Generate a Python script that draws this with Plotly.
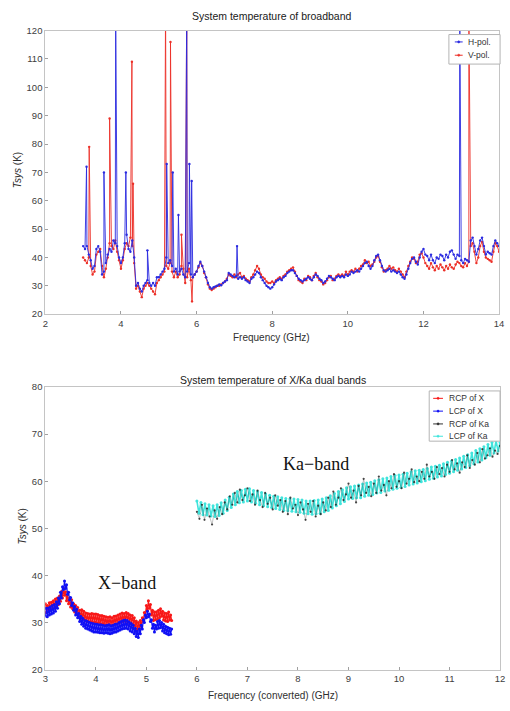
import plotly.graph_objects as go

# ---------------- Broadband panel (3-14 GHz) ----------------
bb_freq = [round(3.0 + 0.05 * i, 2) for i in range(221)]

h_pol = [
    44, 43, 44, 41, 39, 36, 37, 43, 44, 42,
    34, 35, 38, 41, 43, 42, 46, 45, 44, 40,
    38, 40, 45, 48, 43, 42, 46, 40, 30, 31,
    29, 28, 30, 31, 32, 31, 30, 31, 30, 33,
    33, 34, 35, 36, 40, 38, 39, 37, 35, 36,
    34, 35, 36, 34, 33, 35, 38, 34, 33, 34,
    35, 37, 38.5, 37, 35, 33, 31, 29.5, 29, 29.5,
    29.8, 30, 30.5, 30.2, 31, 31.5, 32, 34.5, 34, 33.5,
    33, 33.5, 32.5, 33, 32.5, 33, 32, 31.5, 31, 32.5,
    33, 34, 35, 34.5, 33, 32, 31, 30, 29.5, 29,
    29.5, 30.5, 31.5, 32, 32.5, 32, 33, 33.5, 34.5, 35,
    35.5, 35.5, 34.5, 33.5, 32.5, 32, 31.5, 32, 32.5, 33,
    32.5, 32, 33, 34, 33.5, 32.5, 32, 31, 31.5, 32.5,
    33.5, 33, 32.5, 32, 33, 33.5, 33, 33.5, 33, 34,
    33.5, 34, 35, 34.5, 35, 35.5, 35, 36, 37, 38,
    38.5, 37, 36, 37, 39, 40.5, 41, 39, 37, 35.5,
    35, 35.5, 36, 35, 35.5, 35, 34.5, 35, 34, 33,
    32.5, 34, 36, 38, 39.5, 40, 38.5, 37.5, 40, 42,
    43, 41, 40.5, 39, 41, 39, 38, 40, 39.5, 41,
    40.5, 39, 41, 40, 42, 42.5, 41, 39.5, 41, 40.5,
    39, 38, 39.5, 39, 38.5, 46, 47, 44, 41, 43,
    46, 47, 44, 41, 42, 41.5, 41, 44, 46, 45,
    44,
]

v_pol = [
    40, 39, 38, 40, 37, 34, 35, 41, 42, 43,
    37, 33, 36, 40, 45, 44, 43, 46, 42, 39,
    36, 39, 43, 45, 44, 47, 44, 38, 29, 30,
    28, 26, 29, 30, 31, 30, 29, 28, 27, 31,
    32, 33, 34, 35, 37, 36, 38, 35, 33, 35,
    33, 34, 37, 36, 31, 33, 36, 32, 33, 34,
    35, 36.5, 38, 37, 34.5, 33, 30.5, 29, 28.5, 29,
    29.5, 30, 30, 30.5, 31, 31.5, 32.5, 34, 33.5, 33,
    34, 33, 34, 34.5, 33, 33.5, 32.5, 32, 31.5, 33,
    34, 35.5, 37, 36, 34, 33, 32.5, 31.5, 31, 31,
    31.5, 31, 32, 32.5, 33, 32.5, 33.5, 34, 35, 35.5,
    36, 36.5, 35, 33.5, 32, 31.5, 31, 32.5, 32, 33.5,
    33, 32, 33.5, 34.5, 33, 32, 31.5, 30.5, 31, 32,
    33, 33.5, 32, 32.5, 33.5, 34, 33.5, 34, 33.5, 35,
    34, 35, 35.5, 35, 36, 35, 36, 37, 37.5, 39,
    38, 38.5, 37, 37.5, 38.5, 40, 40.5, 38.5, 36.5, 35,
    35.5, 36, 37, 36, 36.5, 35.5, 35, 36, 35, 34,
    33, 35, 37, 38.5, 40, 39.5, 38, 38.5, 41, 41.5,
    40, 38, 37, 36, 38, 36.5, 35.5, 37, 36, 37.5,
    36.5, 35.5, 37, 36, 37.5, 36.5, 36, 37.5, 38.5, 38,
    37, 36.5, 38, 37, 38.5, 44, 45, 42, 38, 40,
    44, 45.5, 42, 40, 39.5, 39, 38.5, 42, 45, 44,
    42,
]

# Narrow interference spikes (GHz, K)
h_spike_freq = [3.09, 3.55, 3.86, 4.13, 4.70, 5.21, 5.37, 5.52, 5.74, 5.81, 5.87, 7.07, 12.96]
h_spike_tsys = [72, 70, 130, 70, 42.5, 73, 70, 55, 130, 73, 67, 44, 130]
v_spike_freq = [3.16, 3.70, 4.29, 4.32, 5.18, 5.31, 5.60, 5.74, 5.88, 13.20]
v_spike_tsys = [79, 89, 109, 66, 130, 116, 48, 130, 24.5, 130]

# ---------------- X / Ka dual-band panel ----------------
x_freq = [round(3.0 + 0.02 * i, 2) for i in range(126)]

rcp_x = [
    34.0, 32.1, 33.6, 32.4, 34.2, 32.7, 34.3, 32.9, 34.6, 33.1,
    35.0, 33.3, 35.2, 33.8, 35.6, 34.5, 36.6, 35.2, 37.3, 35.8,
    36.5, 34.6, 35.9, 34.0, 35.2, 33.3, 34.8, 32.9, 34.0, 32.2,
    33.6, 31.8, 33.2, 31.4, 32.6, 31.0, 32.7, 30.8, 32.4, 30.6,
    32.0, 30.2, 31.9, 30.1, 31.8, 30.2, 31.9, 30.0, 31.8, 30.1,
    31.8, 29.9, 31.7, 30.0, 31.5, 29.6, 31.5, 29.8, 31.3, 29.5,
    31.2, 29.4, 31.1, 29.5, 31.2, 29.3, 31.0, 29.4, 31.3, 29.6,
    31.4, 29.7, 31.6, 29.9, 31.8, 30.1, 32.0, 30.2, 31.9, 30.3,
    32.1, 30.2, 31.9, 30.0, 31.6, 29.8, 31.5, 29.6, 31.0, 29.2,
    30.3, 28.5, 30.0, 28.7, 30.4, 29.2, 31.0, 30.2, 32.1, 31.5,
    33.6, 32.6, 34.6, 33.0, 33.8, 31.6, 32.6, 30.4, 32.2, 30.6,
    32.3, 30.7, 32.6, 31.0, 32.9, 31.3, 32.4, 30.5, 32.0, 30.3,
    31.9, 30.2, 32.2, 30.5, 31.6, 30.4,
]

lcp_x = [
    31.4, 33.0, 31.2, 33.1, 31.6, 33.3, 31.8, 33.6, 32.0, 33.8,
    32.4, 34.4, 33.0, 35.2, 34.0, 36.4, 35.2, 37.6, 37.0, 38.8,
    37.2, 38.0, 36.0, 36.4, 34.8, 35.3, 33.6, 34.2, 32.6, 33.4,
    31.6, 32.8, 31.0, 31.9, 30.2, 31.3, 29.6, 30.9, 29.2, 30.4,
    28.8, 30.3, 28.6, 30.1, 28.4, 29.9, 28.2, 29.8, 28.0, 29.7,
    28.0, 29.6, 27.9, 29.5, 27.8, 29.5, 27.8, 29.4, 27.7, 29.3,
    27.8, 29.4, 27.7, 29.5, 27.6, 29.3, 27.7, 29.4, 27.9, 29.6,
    28.0, 29.7, 28.2, 30.0, 28.4, 30.2, 28.6, 30.4, 28.7, 30.5,
    28.8, 30.4, 28.6, 30.1, 28.2, 29.8, 28.0, 29.4, 27.6, 28.8,
    27.0, 28.2, 26.8, 28.6, 27.6, 29.4, 28.6, 30.6, 30.0, 31.6,
    31.0, 32.4, 31.2, 31.8, 30.2, 30.6, 28.8, 29.6, 28.0, 29.4,
    28.6, 30.2, 28.8, 30.4, 28.9, 30.0, 28.2, 29.6, 27.8, 29.2,
    27.6, 29.0, 27.4, 28.8, 27.5, 28.6,
]

ka_freq_r = [round(6.0 + 0.05 * i, 2) for i in range(121)]
rcp_ka = [
    53.5, 52.0, 55.0, 51.8, 54.2, 52.5, 50.8, 53.8, 52.0, 54.5,
    53.0, 55.5, 54.0, 56.8, 55.0, 57.5, 55.5, 58.2, 56.0, 57.0,
    58.5, 55.8, 57.2, 55.0, 58.0, 56.0, 54.5, 57.5, 55.2, 56.5,
    54.0, 57.0, 54.8, 56.0, 53.5, 55.8, 53.0, 56.5, 54.2, 55.0,
    52.8, 55.5, 54.0, 51.8, 55.2, 53.5, 55.8, 52.5, 54.8, 53.0,
    55.5, 53.8, 56.5, 54.5, 57.8, 55.0, 56.5, 58.5, 56.0, 57.2,
    59.5, 56.5, 58.0, 55.5, 59.0, 57.0, 60.5, 57.5, 58.8, 56.8,
    59.5, 57.5, 61.0, 58.0, 59.2, 57.0, 60.0, 58.5, 61.5, 58.8,
    60.0, 58.5, 61.8, 59.5, 60.5, 62.5, 59.8, 61.0, 60.0, 62.0,
    60.5, 63.5, 61.0, 62.0, 60.5, 63.0, 61.5, 62.8, 61.0, 63.5,
    62.0, 64.5, 62.5, 63.8, 61.8, 64.0, 63.0, 65.5, 62.8, 64.5,
    63.5, 66.0, 64.0, 66.8, 64.8, 65.5, 67.0, 65.2, 66.5, 65.8,
    67.5,
]

ka_freq_l = [round(6.0 + 0.04 * i, 2) for i in range(151)]
lcp_ka = [
    55.8, 53.2, 55.5, 52.9, 55.2, 52.8, 55.0, 52.6, 54.8, 52.5,
    55.0, 52.7, 55.4, 53.2, 56.0, 53.8, 56.6, 54.4, 57.3, 55.0,
    57.8, 55.4, 58.0, 55.6, 58.3, 55.8, 58.4, 55.6, 58.0, 55.3,
    57.8, 55.0, 57.6, 54.8, 57.3, 54.6, 57.0, 54.4, 56.8, 54.2,
    56.7, 54.0, 56.5, 53.8, 56.3, 53.7, 56.2, 53.6, 56.2, 53.5,
    56.1, 53.4, 56.0, 53.2, 55.8, 53.1, 55.8, 53.0, 55.9, 53.1,
    56.0, 53.2, 56.2, 53.5, 56.5, 53.8, 56.9, 54.3, 57.4, 54.8,
    57.8, 55.2, 58.2, 55.7, 58.6, 56.2, 58.8, 56.3, 59.0, 56.5,
    59.2, 56.5, 59.4, 56.8, 59.6, 57.0, 59.8, 57.2, 60.1, 57.5,
    60.3, 57.6, 60.5, 57.9, 60.7, 58.1, 61.0, 58.3, 61.2, 58.5,
    61.3, 58.7, 61.5, 58.9, 61.7, 59.2, 62.0, 59.4, 62.2, 59.6,
    62.3, 59.9, 62.5, 60.1, 62.7, 60.4, 63.0, 60.6, 63.2, 60.9,
    63.4, 61.1, 63.7, 61.4, 64.0, 61.7, 64.3, 62.0, 64.6, 62.3,
    64.9, 62.6, 65.3, 62.9, 65.6, 63.3, 66.0, 63.7, 66.5, 64.1,
    66.9, 64.5, 67.3, 65.0, 67.8, 65.5, 68.2, 66.0, 68.6, 66.4,
    68.2,
]

assert len(h_pol) == len(v_pol) == len(bb_freq)
assert len(rcp_x) == len(lcp_x) == len(x_freq)
assert len(rcp_ka) == len(ka_freq_r) and len(lcp_ka) == len(ka_freq_l)


def with_spikes(freq, vals, sfreq, svals):
    pts = sorted(list(zip(freq, vals)) + list(zip(sfreq, svals)))
    return [p[0] for p in pts], [p[1] for p in pts]


hx, hy = with_spikes(bb_freq, h_pol, h_spike_freq, h_spike_tsys)
vx, vy = with_spikes(bb_freq, v_pol, v_spike_freq, v_spike_tsys)

BLUE = "#2a2ae0"
RED = "#ec3028"
XBLUE = "#1010f4"
XRED = "#f81818"
CYAN = "#40e4dc"
DARK = "#333333"
FONT = "Liberation Sans, Arial, sans-serif"

W, H = 510, 711


def px(v):
    return v / W


def py(v):
    return (H - v) / H


fig = go.Figure()

# top panel: V-pol first so that H-pol sits on top
fig.add_trace(go.Scatter(x=vx, y=vy, mode="lines+markers", name="V-pol.",
                         line=dict(color=RED, width=0.9), marker=dict(size=2.4, color=RED),
                         xaxis="x", yaxis="y", showlegend=False))
fig.add_trace(go.Scatter(x=hx, y=hy, mode="lines+markers", name="H-pol.",
                         line=dict(color=BLUE, width=0.9), marker=dict(size=2.4, color=BLUE),
                         xaxis="x", yaxis="y", showlegend=False))

# bottom panel
fig.add_trace(go.Scatter(x=x_freq, y=rcp_x, mode="lines+markers", name="RCP of X",
                         line=dict(color=XRED, width=1.2), marker=dict(size=3, color=XRED),
                         xaxis="x2", yaxis="y2", showlegend=False))
fig.add_trace(go.Scatter(x=x_freq, y=lcp_x, mode="lines+markers", name="LCP of X",
                         line=dict(color=XBLUE, width=1.2), marker=dict(size=3, color=XBLUE),
                         xaxis="x2", yaxis="y2", showlegend=False))
fig.add_trace(go.Scatter(x=ka_freq_l, y=lcp_ka, mode="lines+markers", name="LCP of Ka",
                         line=dict(color=CYAN, width=1.6), marker=dict(size=3, color=CYAN),
                         xaxis="x2", yaxis="y2", showlegend=False))
fig.add_trace(go.Scatter(x=ka_freq_r, y=rcp_ka, mode="lines+markers", name="RCP of Ka",
                         line=dict(color="rgba(40,40,40,0.55)", width=0.5),
                         marker=dict(size=2.2, color="rgba(30,30,30,0.8)"),
                         xaxis="x2", yaxis="y2", showlegend=False))

axis_common = dict(showline=True, mirror=True, linecolor="#c4c4c4", linewidth=1,
                   ticks="inside", ticklen=3, tickcolor="#a0a0a0", showgrid=False,
                   zeroline=False, tickfont=dict(family=FONT, size=9.5, color="#404040"))

fig.update_layout(
    width=W, height=H, margin=dict(l=0, r=0, t=0, b=0),
    paper_bgcolor="white", plot_bgcolor="white",
    font=dict(family=FONT, color="#303030"),
    showlegend=False,
    xaxis=dict(domain=[px(43), px(504)], range=[2, 14], tickvals=[2, 4, 6, 8, 10, 12, 14],
               anchor="y", **axis_common),
    yaxis=dict(domain=[py(313), py(25)], range=[20, 120], dtick=10, anchor="x", **axis_common),
    xaxis2=dict(domain=[px(43), px(505)], range=[3, 12], dtick=1, anchor="y2", **axis_common),
    yaxis2=dict(domain=[py(674), py(387)], range=[20, 80], dtick=10, anchor="x2", **axis_common),
)

ann = []
shapes = []


def text(t, x, y, font, **kw):
    ann.append(dict(text=t, x=px(x), y=py(y), xref="paper", yref="paper", showarrow=False,
                    xanchor=kw.pop("xanchor", "center"), yanchor="middle", font=font, **kw))


tfont = dict(family=FONT, size=10.5, color="#202020")
lfont = dict(family=FONT, size=10, color="#303030")
text("System temperature of broadband", 273, 10, tfont)
text("Frequency (GHz)", 273, 337, lfont)
text("<i>Tsys</i> (K)", 15, 167, lfont, textangle=-90)
text("System temperature of X/Ka dual bands", 274, 380, tfont)
text("Frequency (converted) (GHz)", 274, 700, lfont)
text("<i>Tsys</i> (K)", 20, 529, lfont, textangle=-90)

band_font = dict(family="Liberation Serif, Times New Roman, serif", size=18, color="#111111")
ann.append(dict(text="X\u2212band", x=4.62, y=38.4, xref="x2", yref="y2", showarrow=False,
                font=band_font))
ann.append(dict(text="Ka\u2212band", x=8.35, y=63.7, xref="x2", yref="y2", showarrow=False,
                font=band_font))


# legend boxes (white filled, drawn over the data) with short line-and-dot samples
def legend_box(x0, y0, x1, y1, entries, sx0, sx1, tx):
    shapes.append(dict(type="rect", xref="paper", yref="paper", x0=px(x0), x1=px(x1),
                       y0=py(y1), y1=py(y0), line=dict(color="#b4b4b4", width=1),
                       fillcolor="white", layer="above"))
    for label, color, yy in entries:
        shapes.append(dict(type="line", xref="paper", yref="paper", x0=px(sx0), x1=px(sx1),
                           y0=py(yy), y1=py(yy), line=dict(color=color, width=1),
                           layer="above"))
        cx = (sx0 + sx1) / 2
        shapes.append(dict(type="circle", xref="paper", yref="paper", x0=px(cx - 1.1),
                           x1=px(cx + 1.1), y0=py(yy + 1.1), y1=py(yy - 1.1),
                           line=dict(color=color, width=0.5), fillcolor=color, layer="above"))
        text(label, tx, yy, dict(family=FONT, size=8.5, color="#333333"), xanchor="left")


legend_box(453, 29, 505, 59, [("H-pol.", BLUE, 36.5), ("V-pol.", RED, 50)], 459, 467, 470)
legend_box(433, 391, 505, 442,
           [("RCP of X", XRED, 398.5), ("LCP of X", XBLUE, 411.5),
            ("RCP of Ka", DARK, 424.5), ("LCP of Ka", CYAN, 437)], 437, 447, 451)

fig.update_layout(annotations=ann, shapes=shapes)

fig.write_html("out.html")
